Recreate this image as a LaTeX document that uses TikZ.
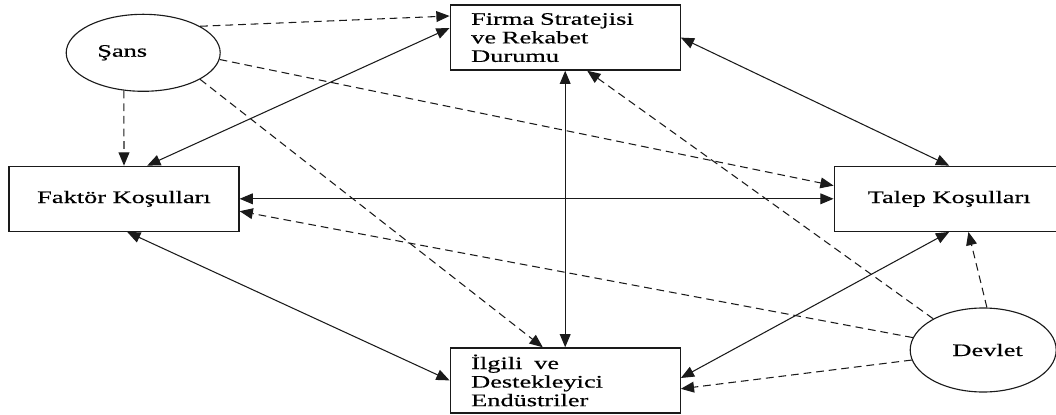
\documentclass[tikz,border=0pt]{standalone}
\usepackage{fontspec}
\newfontfamily\diagfont{Liberation Serif}[FakeStretch=1.5,FakeBold=0.5]
\usetikzlibrary{arrows.meta,shapes.geometric}
\definecolor{inkline}{HTML}{1A1A1A}

\begin{document}
\begin{tikzpicture}[
  stage/.style={draw=inkline, line width=0.9pt, minimum width=5.75cm, minimum height=1.625cm,
                font=\diagfont\fontsize{12.5pt}{13.2pt}\selectfont, align=center, text=black},
  stagelist/.style={stage, align=left, text width=4.7cm, inner xsep=0.525cm},
  outer/.style={draw=inkline, line width=0.8pt, ellipse, inner sep=0pt,
                font=\diagfont\fontsize{12.5pt}{13.2pt}\selectfont, text=black},
  mutual/.style={{Triangle[length=0.33cm,width=0.27cm]}-{Triangle[length=0.33cm,width=0.27cm]},
                 line width=0.75pt, draw=inkline},
  influence/.style={-{Triangle[length=0.33cm,width=0.27cm]}, line width=0.75pt, draw=inkline,
                    dash pattern=on 5.5pt off 3.5pt}
]
  \useasboundingbox (0,0) rectangle (26.4,10.35);

  % Diamond
  \node[stagelist] (firma) at (14.13,9.41) {Firma Stratejisi\\ve Rekabet\\Durumu};
  \node[stage] (faktor) at (3.1,5.38) {Faktör Koşulları};
  \node[stage] (talep) at (23.73,5.38) {Talep Koşulları};
  \node[stagelist] (ilgili) at (14.13,0.84) {İlgili\ \ ve\\Destekleyici\\Endüstriler};

  % Outside factors
  \node[outer, minimum width=3.85cm, minimum height=1.925cm] (sans) at (3.58,9.03) {Şans\hspace*{1.05cm}};
  \node[outer, minimum width=3.65cm, minimum height=2.1cm] (devlet) at (24.58,1.6) {\hspace*{0.22cm}Devlet};

  % Two-way links
  \draw[mutual] ([xshift=0.58cm]faktor.north) -- ([yshift=0.24cm]firma.west);
  \draw[mutual] (firma.east) -- (talep.north);
  \draw[mutual] (firma.south) -- (ilgili.north);
  \draw[mutual] (faktor.east) -- (talep.west);
  \draw[mutual] ([xshift=0.08cm]faktor.south) -- (ilgili.west);
  \draw[mutual] (talep.south) -- ([yshift=0.06cm]ilgili.east);

  % Şans
  \draw[influence] (sans.25) -- ([yshift=0.54cm]firma.west);
  \draw[influence] (sans.355) -- ([yshift=0.33cm]talep.west);
  \draw[influence] (sans.335) -- ([xshift=-0.56cm]ilgili.north);
  \draw[influence] (sans.243) -- (faktor.north);

  % Devlet
  \draw[influence] (devlet.148) -- ([xshift=0.55cm]firma.south);
  \draw[influence] (devlet.170) -- ([yshift=-0.31cm]faktor.east);
  \draw[influence] (devlet.188) -- ([yshift=-0.21cm]ilgili.east);
  \draw[influence] (devlet.85) -- ([xshift=0.48cm]talep.south);
\end{tikzpicture}
\end{document}
